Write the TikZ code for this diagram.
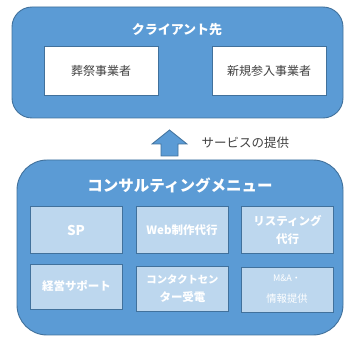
\documentclass[tikz,border=0pt]{standalone}
\usepackage{fontspec}
\newfontfamily\jp{Noto Sans CJK JP}
\usetikzlibrary{positioning}
\definecolor{mblue}{HTML}{5B9BD5}
\definecolor{dblue}{HTML}{41719C}
\definecolor{lblue}{HTML}{BDD7EE}
\definecolor{tgray}{HTML}{404040}
\tikzset{
  outer/.style={draw=dblue, fill=mblue, line width=0.9pt},
  whitebox/.style={draw=dblue, fill=white, line width=0.7pt, minimum width=114pt, minimum height=49pt, inner sep=0pt, font=\jp\fontsize{12}{14}\selectfont, text=tgray},
  menubox/.style={draw=dblue, fill=lblue, line width=0.8pt, minimum width=92pt, minimum height=47pt, inner sep=0pt, text=white, align=center, font=\jp\bfseries\fontsize{11.5}{18}\selectfont},
  title/.style={text=white, font=\jp\bfseries\fontsize{13}{15}\selectfont}
}
\begin{document}
\begin{tikzpicture}[x=1pt,y=-1pt]
\useasboundingbox (0,0) rectangle (357,345);
% client box
\draw[outer, rounded corners=20pt] (12,7) rectangle (343,118);
\node[title] (t1) at (177,30) {クライアント先};
\node[whitebox] (c1) at (101,70.5) {葬祭事業者};
\node[whitebox] (c2) at (269,70.5) {新規参入事業者};
% arrow
\draw[draw=dblue, fill=mblue, line width=0.8pt] (161,156) -- (161,144) -- (152,144) -- (169.5,130) -- (187,144) -- (178,144) -- (178,156) -- cycle;
\node[text=tgray, font=\jp\fontsize{12.5}{14}\selectfont, anchor=west] (sv) at (198,143) {サービスの提供};
% menu box
\draw[outer, rounded corners=30pt] (17,160) rectangle (343,335);
\node[text=white, font=\jp\bfseries\fontsize{15.5}{18}\selectfont] (t2) at (180,185) {コンサルティングメニュー};
\node[menubox] (m1) at (76,230) {\fontsize{13.5}{15}\selectfont SP};
\node[menubox] (m2) at (182,230) {Web制作代行};
\node[menubox] (m3) at (287.5,230) {リスティング\\代行};
\node[menubox, minimum height=45pt] (m4) at (76.5,286.5) {経営サポート};
\node[menubox, minimum height=45pt] (m5) at (182.5,288.5) {\fontsize{10.3}{18}\selectfont コンタクトセン\\ター受電};
\node[menubox, minimum height=45pt, font=\jp\fontsize{10}{18}\selectfont] (m6) at (287,289.5) {\fontsize{9}{12}\selectfont M\&A・\\[3pt]\fontsize{10.3}{12}\selectfont 情報提供};
\end{tikzpicture}
\end{document}
